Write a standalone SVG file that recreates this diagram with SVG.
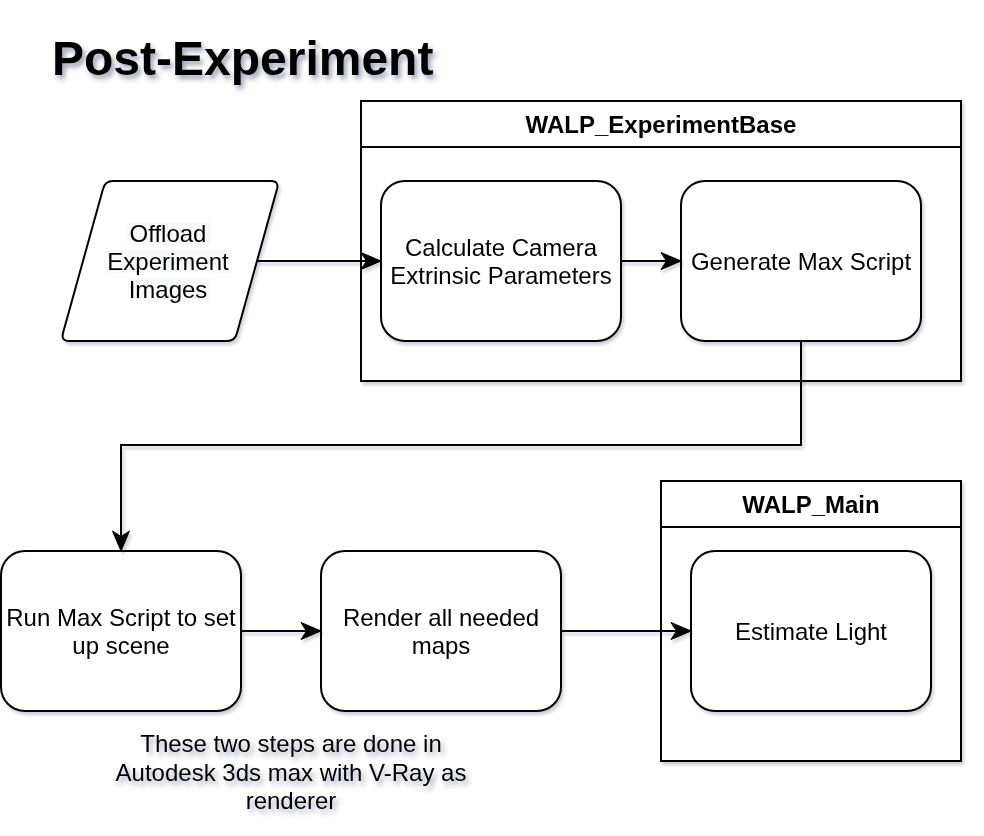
<svg xmlns="http://www.w3.org/2000/svg" width="984" height="836" viewBox="0 0 984 836">
<defs>
<filter id="sh" x="-10%" y="-10%" width="130%" height="130%">
<feDropShadow dx="2" dy="3" stdDeviation="1.8" flood-color="#1b2a50" flood-opacity="0.22"/>
</filter>
<filter id="tsh" x="-10%" y="-30%" width="130%" height="180%">
<feDropShadow dx="3" dy="4" stdDeviation="2.5" flood-color="#2a3a66" flood-opacity="0.45"/>
</filter>
<marker id="arr" markerUnits="userSpaceOnUse" markerWidth="22" markerHeight="20" viewBox="0 0 22 20" refX="21" refY="10" orient="auto">
<path d="M1,1.5 L21,10 L1,18.5 L6.5,10 z" fill="#000" stroke="#000" stroke-width="1" stroke-linejoin="miter"/>
</marker>
</defs>
<style>
.box{fill:#fff;stroke:#000;stroke-width:2}
.t{font-family:"Liberation Sans",Arial,Helvetica,sans-serif;font-size:24px;fill:#000;text-anchor:middle}
.b{font-weight:bold}
.edge{fill:none;stroke:#000;stroke-width:2}
</style>
<rect width="984" height="836" fill="#fff"/>

<g id="title" filter="url(#tsh)">
<text x="52" y="75" font-family="Liberation Sans,Arial,sans-serif" font-size="48" font-weight="bold" fill="#000">Post-Experiment</text>
</g>

<g id="container-experimentbase" filter="url(#sh)">
<rect class="box" x="361" y="101" width="600" height="280"/>
<line x1="361" y1="147" x2="961" y2="147" stroke="#000" stroke-width="2"/>
<text class="t b" x="661" y="133">WALP_ExperimentBase</text>
</g>

<g id="container-main" filter="url(#sh)">
<rect class="box" x="661" y="481" width="300" height="280"/>
<line x1="661" y1="527" x2="961" y2="527" stroke="#000" stroke-width="2"/>
<text class="t b" x="811" y="513">WALP_Main</text>
</g>

<g id="offload" filter="url(#sh)">
<path class="box" d="M113,181 L271,181 Q279,181 277,189 L237,333 Q235,341 227,341 L69,341 Q61,341 63,333 L103,189 Q105,181 113,181 Z"/>
<rect x="127" y="222" width="84" height="23" fill="#f8f9fa"/>
<rect x="106" y="250" width="126" height="23" fill="#f8f9fa"/>
<rect x="128" y="278" width="82" height="24" fill="#f8f9fa"/>
<text class="t" x="168" y="242">Offload </text>
<text class="t" x="168" y="270">Experiment </text>
<text class="t" x="168" y="298">Images</text>
</g>

<g id="calc" filter="url(#sh)">
<rect class="box" x="381" y="181" width="240" height="160" rx="24" ry="24"/>
<text class="t" x="501" y="256">Calculate Camera</text>
<text class="t" x="501" y="284">Extrinsic Parameters</text>
</g>

<g id="generate" filter="url(#sh)">
<rect class="box" x="681" y="181" width="240" height="160" rx="24" ry="24"/>
<text class="t" x="801" y="270">Generate Max Script</text>
</g>

<g id="runmax" filter="url(#sh)">
<rect class="box" x="1" y="551" width="240" height="160" rx="24" ry="24"/>
<text class="t" x="121" y="626">Run Max Script to set</text>
<text class="t" x="121" y="654">up scene</text>
</g>

<g id="render" filter="url(#sh)">
<rect class="box" x="321" y="551" width="240" height="160" rx="24" ry="24"/>
<text class="t" x="441" y="626">Render all needed</text>
<text class="t" x="441" y="654">maps</text>
</g>

<g id="estimate" filter="url(#sh)">
<rect class="box" x="691" y="551" width="240" height="160" rx="24" ry="24"/>
<text class="t" x="811" y="640">Estimate Light</text>
</g>

<g id="note" filter="url(#tsh)">
<text class="t" x="291" y="752">These two steps are done in</text>
<text class="t" x="291" y="781">Autodesk 3ds max with V-Ray as</text>
<text class="t" x="291" y="809">renderer</text>
</g>

<g id="connectors" filter="url(#sh)">
<path class="edge" d="M257,261 L381,261" marker-end="url(#arr)"/>
<path class="edge" d="M621,261 L681,261" marker-end="url(#arr)"/>
<path class="edge" d="M801,341 L801,445 L121,445 L121,551" marker-end="url(#arr)"/>
<path class="edge" d="M241,631 L321,631" marker-end="url(#arr)"/>
<path class="edge" d="M561,631 L691,631" marker-end="url(#arr)"/>
</g>
</svg>
